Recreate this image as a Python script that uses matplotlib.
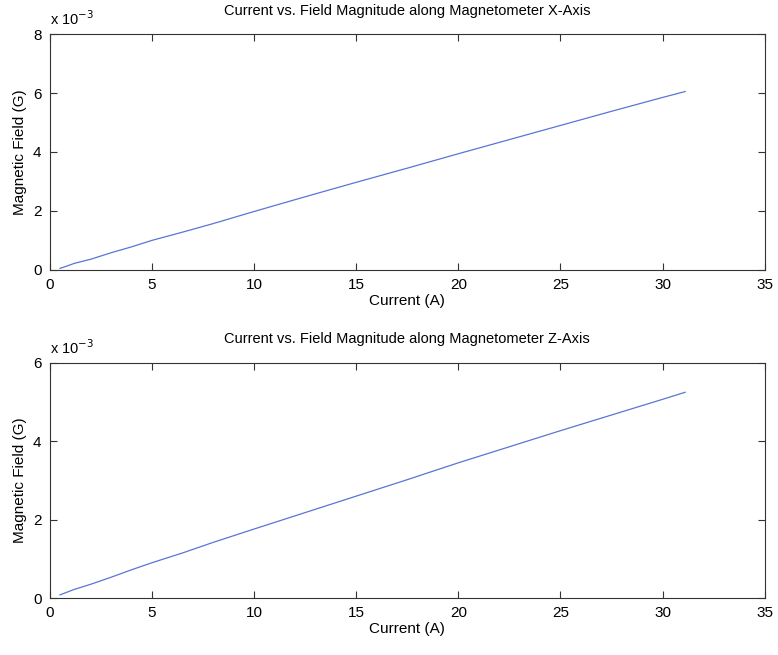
import numpy as np
import matplotlib.pyplot as plt
from matplotlib.ticker import FuncFormatter

plt.rcParams['font.family'] = ['Liberation Sans', 'DejaVu Sans']

# current (A) and field (G)
current_x = [0.5, 0.8, 1.2, 2.0, 3.0, 4.0, 5.0, 6.5, 8.0, 10.0, 12.5, 15.0, 17.5, 20.0, 22.5, 25.0, 27.5, 30.0, 31.1]
field_x = [0.00005, 0.00012, 0.00022, 0.00036, 0.00058, 0.00078, 0.00100, 0.00128, 0.00157, 0.00198, 0.00248, 0.00297, 0.00345, 0.00394, 0.00442, 0.00490, 0.00538, 0.00585, 0.00605]

current_z = [0.5, 0.8, 1.2, 2.0, 3.0, 4.0, 5.0, 6.5, 8.0, 10.0, 12.5, 15.0, 17.5, 20.0, 22.5, 25.0, 27.5, 30.0, 31.1]
field_z = [0.00008, 0.00014, 0.00022, 0.00035, 0.00053, 0.00072, 0.00090, 0.00115, 0.00142, 0.00176, 0.00218, 0.00260, 0.00302, 0.00345, 0.00386, 0.00427, 0.00467, 0.00507, 0.00525]

fig = plt.figure(figsize=(7.78, 6.55), dpi=100)
ax1 = fig.add_axes([0.064, 0.588, 0.919, 0.360])
ax2 = fig.add_axes([0.064, 0.087, 0.919, 0.359])

panels = [
    (ax1, current_x, field_x, 'Current vs. Field Magnitude along Magnetometer X-Axis', 0.008, [0, 0.002, 0.004, 0.006, 0.008]),
    (ax2, current_z, field_z, 'Current vs. Field Magnitude along Magnetometer Z-Axis', 0.006, [0, 0.002, 0.004, 0.006]),
]

for ax, cx, fz, title, ymax, yt in panels:
    ax.plot(cx, fz, color='#5b74d6', lw=0.9)
    ax.set_xlim(0, 35)
    ax.set_ylim(0, ymax)
    ax.set_xticks(range(0, 36, 5))
    ax.set_yticks(yt)
    ax.yaxis.set_major_formatter(FuncFormatter(lambda v, p: '%g' % round(v * 1000, 6)))
    ax.tick_params(direction='in', top=True, right=True, labelsize=11, length=5, pad=6, color='#333333')
    for s in ax.spines.values():
        s.set_color('#333333')
    ax.set_title(title, fontsize=10.5, pad=14)
    ax.set_xlabel('Current (A)', fontsize=11, labelpad=1)
    ax.set_ylabel('Magnetic Field (G)', fontsize=11, labelpad=4)
    ax.text(0.0, 1.025, 'x 10$^{-3}$', transform=ax.transAxes, fontsize=10.5, ha='left', va='bottom')

plt.savefig('out.png', dpi=100)
